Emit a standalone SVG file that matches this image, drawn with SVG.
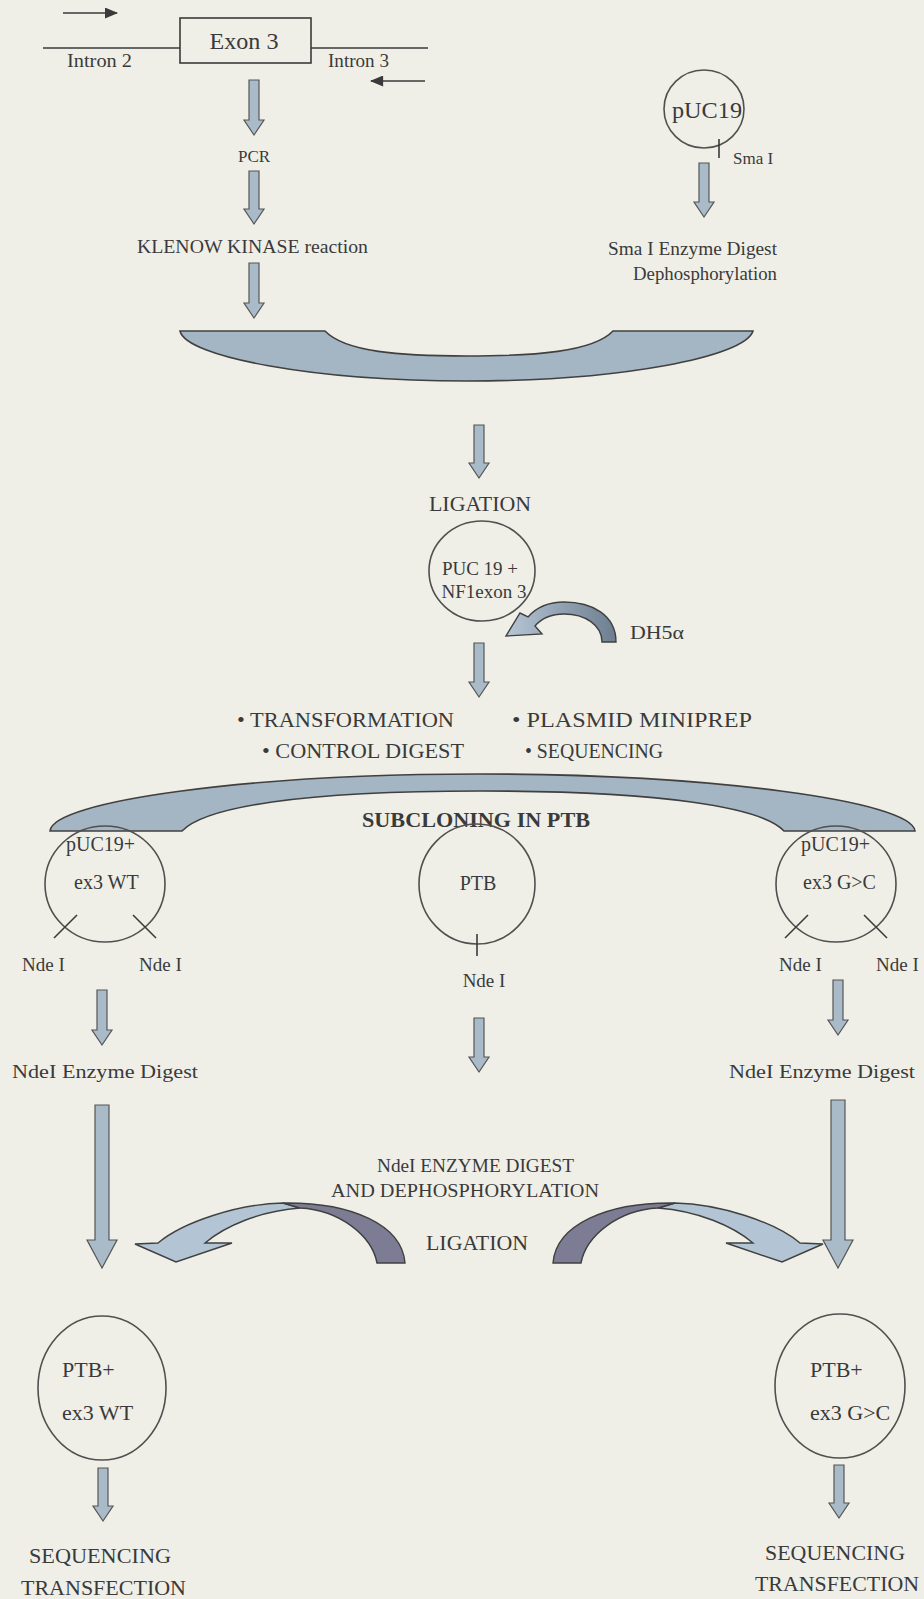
<svg xmlns="http://www.w3.org/2000/svg" width="924" height="1599" viewBox="0 0 924 1599">
<defs>
<style>
.t{font-family:"Liberation Serif","Times New Roman",serif;fill:#3a3a3a}
.c{text-anchor:middle}
.ln{stroke:#3a3a3a;stroke-width:1.6;fill:none}
.arr{fill:#a9bac9;stroke:#555;stroke-width:1.2}
.ring{fill:none;stroke:#505050;stroke-width:1.6}
.bowl{fill:#a4b5c4;stroke:#404040;stroke-width:1.6}
.dark{fill:#7c7c95;stroke:#404040;stroke-width:1.4}
.light{fill:#b3c4d4;stroke:#404040;stroke-width:1.4}
</style>
<marker id="ah" viewBox="0 0 12 10" refX="11" refY="5" markerWidth="14" markerHeight="11" orient="auto" markerUnits="userSpaceOnUse">
<path d="M0,0 L12,5 L0,10 Z" fill="#3a3a3a"/>
</marker>
<linearGradient id="gdh" x1="1" y1="0" x2="0" y2="0">
<stop offset="0" stop-color="#6d7e90"/>
<stop offset="1" stop-color="#b6c6d5"/>
</linearGradient>
</defs>
<rect width="924" height="1599" fill="#efefe7"/>

<g id="gene">
<line class="ln" x1="63" y1="13" x2="117" y2="13" marker-end="url(#ah)"/>
<line class="ln" x1="43" y1="48" x2="180" y2="48"/>
<rect x="180" y="18" width="131" height="45" fill="none" stroke="#3a3a3a" stroke-width="1.6"/>
<line class="ln" x1="311" y1="48" x2="428" y2="48"/>
<line class="ln" x1="425" y1="81" x2="371" y2="81" marker-end="url(#ah)"/>
<text class="t c" x="244" y="49" font-size="23" textLength="69" lengthAdjust="spacingAndGlyphs">Exon 3</text>
<text class="t" x="67" y="67" font-size="18" textLength="65" lengthAdjust="spacingAndGlyphs">Intron 2</text>
<text class="t" x="328" y="67" font-size="18" textLength="61" lengthAdjust="spacingAndGlyphs">Intron 3</text>
</g>

<g id="pcr"><text class="t c" x="254" y="162" font-size="17">PCR</text></g>
<g id="klenow"><text class="t" x="137" y="253" font-size="18" textLength="231" lengthAdjust="spacingAndGlyphs">KLENOW KINASE  reaction</text></g>

<g id="puc19">
<ellipse class="ring" cx="704" cy="109" rx="40" ry="39"/>
<text class="t c" x="707" y="118" font-size="23" textLength="70" lengthAdjust="spacingAndGlyphs">pUC19</text>
<line class="ln" x1="719" y1="139" x2="719" y2="158"/>
<text class="t" x="733" y="164" font-size="17">Sma I</text>
</g>
<g id="smadigest">
<text class="t" x="608" y="255" font-size="19" textLength="169" lengthAdjust="spacingAndGlyphs">Sma I Enzyme Digest</text>
<text class="t" x="633" y="280" font-size="19" textLength="144" lengthAdjust="spacingAndGlyphs">Dephosphorylation</text>
</g>

<g id="bowl1">
<path class="bowl" d="M180,331 L325,331 C345,352 400,356 467,356 C534,356 593,352 613,331 L753,331 C745,357 620,381 467,381 C314,381 186,357 180,331 Z"/>
</g>

<g id="ligation1"><text class="t c" x="480" y="511" font-size="20" textLength="102" lengthAdjust="spacingAndGlyphs">LIGATION</text></g>
<g id="pucnf1">
<ellipse class="ring" cx="482" cy="571" rx="53" ry="50"/>
<text class="t c" x="480" y="575" font-size="19">PUC 19 +</text>
<text class="t c" x="484" y="598" font-size="19">NF1exon 3</text>
</g>
<g id="dh5a">
<path d="M616,642 C616,615 592,602 564,602 C547,602 535,609 528,617 L520,613 L506,636 L542,634 L535,626 C541,619 551,614 564,614 C585,614 602,625 602,642 Z" fill="url(#gdh)" stroke="#404040" stroke-width="1.4"/>
<text class="t" x="630" y="639" font-size="19" textLength="54" lengthAdjust="spacingAndGlyphs">DH5α</text>
</g>

<g id="steps">
<text class="t" x="237" y="727" font-size="20" textLength="217" lengthAdjust="spacingAndGlyphs">• TRANSFORMATION</text>
<text class="t" x="512" y="727" font-size="20" textLength="240" lengthAdjust="spacingAndGlyphs">• PLASMID MINIPREP</text>
<text class="t" x="262" y="758" font-size="20" textLength="202" lengthAdjust="spacingAndGlyphs">• CONTROL DIGEST</text>
<text class="t" x="525" y="758" font-size="20" textLength="138" lengthAdjust="spacingAndGlyphs">• SEQUENCING</text>
</g>

<g id="bowl2">
<path class="bowl" d="M50,831 C52,801 250,774 480,774 C710,774 912,801 915,831 L784,831 C762,807 660,791 480,791 C300,791 205,807 182,831 Z"/>
<text class="t c" x="476" y="827" font-size="21" font-weight="bold" textLength="228" lengthAdjust="spacingAndGlyphs">SUBCLONING IN PTB</text>
</g>

<g id="pucwt">
<ellipse class="ring" cx="105" cy="884" rx="60" ry="58"/>
<text class="t" x="66" y="851" font-size="20">pUC19+</text>
<text class="t" x="74" y="889" font-size="20">ex3 WT</text>
<line class="ln" x1="54" y1="938" x2="77" y2="915"/>
<line class="ln" x1="133" y1="915" x2="156" y2="938"/>
<text class="t" x="22" y="971" font-size="19">Nde I</text>
<text class="t" x="139" y="971" font-size="19">Nde I</text>
</g>
<g id="ptb">
<ellipse class="ring" cx="477" cy="884" rx="58" ry="60"/>
<text class="t c" x="478" y="890" font-size="20">PTB</text>
<line class="ln" x1="477" y1="934" x2="477" y2="956"/>
<text class="t c" x="484" y="987" font-size="19">Nde I</text>
</g>
<g id="pucgc">
<ellipse class="ring" cx="836" cy="884" rx="60" ry="58"/>
<text class="t" x="801" y="851" font-size="20">pUC19+</text>
<text class="t" x="803" y="889" font-size="20">ex3 G&gt;C</text>
<line class="ln" x1="785" y1="938" x2="808" y2="915"/>
<line class="ln" x1="864" y1="915" x2="887" y2="938"/>
<text class="t" x="779" y="971" font-size="19">Nde I</text>
<text class="t" x="876" y="971" font-size="19">Nde I</text>
</g>

<g id="digests">
<text class="t" x="12" y="1078" font-size="19" textLength="186" lengthAdjust="spacingAndGlyphs">NdeI Enzyme Digest</text>
<text class="t" x="729" y="1078" font-size="19" textLength="186" lengthAdjust="spacingAndGlyphs">NdeI Enzyme Digest</text>
<text class="t" x="377" y="1172" font-size="18" textLength="197" lengthAdjust="spacingAndGlyphs">NdeI ENZYME DIGEST</text>
<text class="t" x="331" y="1197" font-size="19" textLength="268" lengthAdjust="spacingAndGlyphs">AND DEPHOSPHORYLATION</text>
<text class="t c" x="477" y="1250" font-size="20" textLength="102" lengthAdjust="spacingAndGlyphs">LIGATION</text>
</g>

<g id="curveL">
<path class="light" d="M283,1203 C238,1204 183,1222 158,1243 L135,1244 L176,1262 L232,1243 L205,1243 C225,1226 260,1211 300,1208 Z"/>
<path class="dark" d="M283,1203 C352,1202 402,1225 405,1263 L377,1263 C372,1236 340,1210 300,1208 Z"/>
</g>
<g id="curveR" transform="translate(958,0) scale(-1,1)">
<path class="light" d="M283,1203 C238,1204 183,1222 158,1243 L135,1244 L176,1262 L232,1243 L205,1243 C225,1226 260,1211 300,1208 Z"/>
<path class="dark" d="M283,1203 C352,1202 402,1225 405,1263 L377,1263 C372,1236 340,1210 300,1208 Z"/>
</g>

<g id="ptbwt">
<ellipse class="ring" cx="102" cy="1388" rx="64" ry="72"/>
<text class="t" x="62" y="1377" font-size="22">PTB+</text>
<text class="t" x="62" y="1420" font-size="22">ex3 WT</text>
</g>
<g id="ptbgc">
<ellipse class="ring" cx="840" cy="1386" rx="65" ry="72"/>
<text class="t" x="810" y="1377" font-size="22">PTB+</text>
<text class="t" x="810" y="1420" font-size="22">ex3 G&gt;C</text>
</g>
<g id="final">
<text class="t" x="29" y="1563" font-size="21" textLength="142" lengthAdjust="spacingAndGlyphs">SEQUENCING</text>
<text class="t" x="21" y="1595" font-size="21" textLength="165" lengthAdjust="spacingAndGlyphs">TRANSFECTION</text>
<text class="t" x="765" y="1560" font-size="21" textLength="140" lengthAdjust="spacingAndGlyphs">SEQUENCING</text>
<text class="t" x="755" y="1591" font-size="21" textLength="164" lengthAdjust="spacingAndGlyphs">TRANSFECTION</text>
</g>

<g id="connectors">
<path class="arr" d="M249,80 H259 V120 H264 L254,135 L244,120 H249 Z"/>
<path class="arr" d="M249,171 H259 V209 H264 L254,224 L244,209 H249 Z"/>
<path class="arr" d="M249,263 H259 V303 H264 L254,318 L244,303 H249 Z"/>
<path class="arr" d="M699,163 H709 V202 H714 L704,217 L694,202 H699 Z"/>
<path class="arr" d="M474,425 H484 V463 H489 L479,478 L469,463 H474 Z"/>
<path class="arr" d="M474,643 H484 V682 H489 L479,697 L469,682 H474 Z"/>
<path class="arr" d="M97,990 H107 V1030 H112 L102,1045 L92,1030 H97 Z"/>
<path class="arr" d="M474,1018 H484 V1057 H489 L479,1072 L469,1057 H474 Z"/>
<path class="arr" d="M833,980 H843 V1020 H848 L838,1035 L828,1020 H833 Z"/>
<path class="arr" d="M95,1105 H109 V1240 H117 L102,1268 L87,1240 H95 Z"/>
<path class="arr" d="M831,1100 H845 V1240 H853 L838,1268 L823,1240 H831 Z"/>
<path class="arr" d="M98,1468 H108 V1506 H113 L103,1521 L93,1506 H98 Z"/>
<path class="arr" d="M834,1465 H844 V1503 H849 L839,1518 L829,1503 H834 Z"/>
</g>
</svg>
